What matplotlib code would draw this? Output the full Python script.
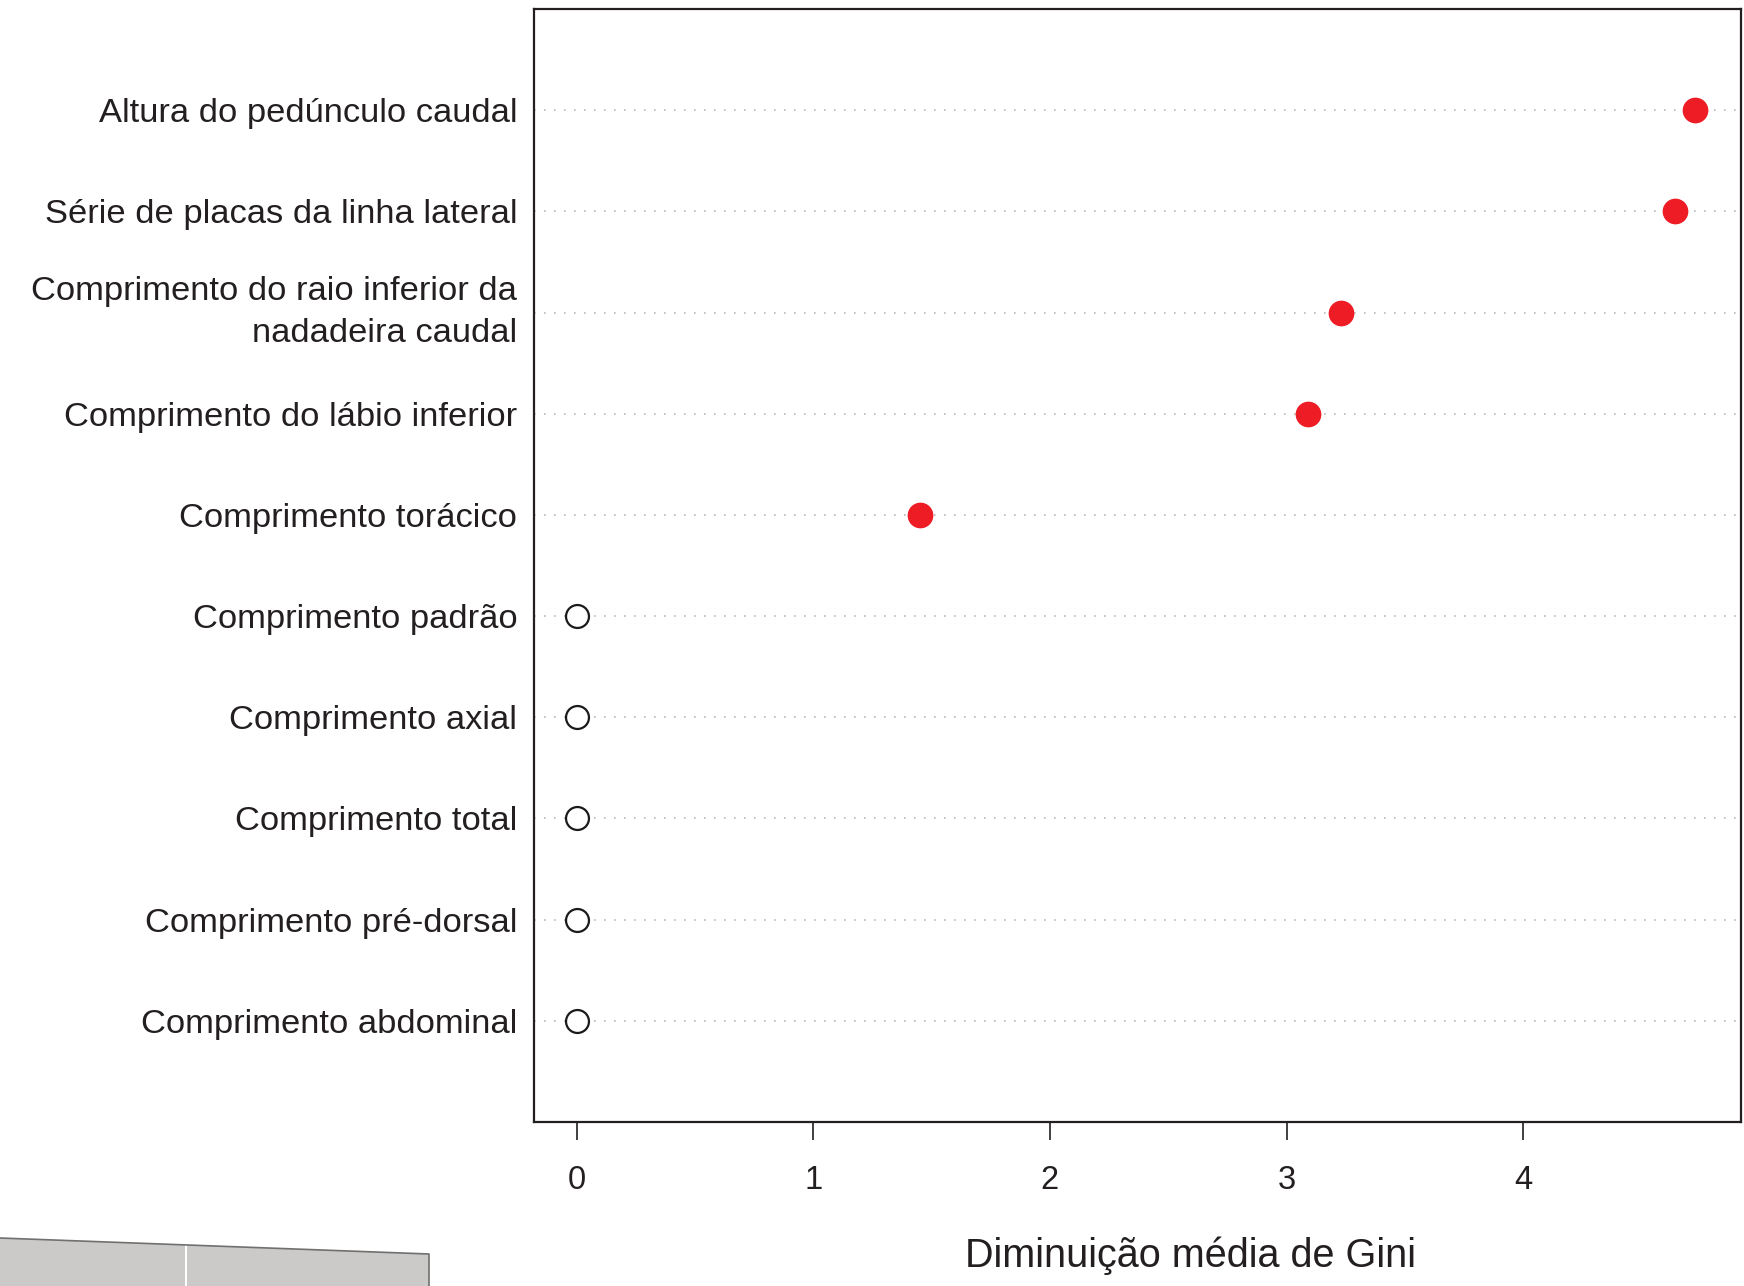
import matplotlib
matplotlib.use("Agg")
import matplotlib.pyplot as plt
from matplotlib.patches import Polygon
from matplotlib.lines import Line2D
import numpy as np

plt.rcParams['font.family'] = ['Liberation Sans', 'DejaVu Sans']

# Data (top to bottom)
labels = [
    "Altura do pedúnculo caudal",
    "Série de placas da linha lateral",
    "Comprimento do raio inferior da\nnadadeira caudal",
    "Comprimento do lábio inferior",
    "Comprimento torácico",
    "Comprimento padrão",
    "Comprimento axial",
    "Comprimento total",
    "Comprimento pré-dorsal",
    "Comprimento abdominal",
]
values = [4.725, 4.64, 3.23, 3.09, 1.45, 0.0, 0.0, 0.0, 0.0, 0.0]
significant = [True, True, True, True, True, False, False, False, False, False]
xticks = [0, 1, 2, 3, 4]
xlabel = "Diminuição média de Gini"

W, H = 1744, 1286
fig = plt.figure(figsize=(W / 100, H / 100), dpi=100)
ax = fig.add_axes([534 / W, 1 - 1122 / H, (1741 - 534) / W, (1122 - 9) / H])

n = len(labels)
ypos = np.arange(n, 0, -1)

for y in ypos:
    ax.axhline(y, color='#b8b8b8', lw=1.2, ls=(0, (1, 5)), zorder=1)

vals = np.array(values)
sig = np.array(significant)
ax.plot(vals[sig], ypos[sig], 'o', ms=17.5, color='#ee1c25', mec='#ee1c25', zorder=3, ls='none')
ax.plot(vals[~sig], ypos[~sig], 'o', ms=16.5, mfc='white', mec='#1a1a1a', mew=1.6, zorder=3, ls='none')

ax.set_xlim(-0.18, 4.92)
ax.set_ylim(0, n + 1)
ax.set_yticks(ypos)
ax.set_yticklabels(labels, fontsize=24.8, color='#231f20', linespacing=1.45)
ax.tick_params(axis='y', length=0, pad=12)
ax.set_xticks(xticks)
ax.set_xticklabels([str(t) for t in xticks], fontsize=23.5, color='#231f20')
ax.tick_params(axis='x', length=13, width=1.2, pad=18, color='#231f20', direction='out')
for lab in ax.get_yticklabels():
    lab.set_horizontalalignment('right')
    if "\n" in lab.get_text():
        lab.set_verticalalignment('center')
for s in ax.spines.values():
    s.set_linewidth(1.6)
    s.set_color('#231f20')

fig.text((866 + 1275) / 2 * 1.1122 / W, 1 - 1256 / H, xlabel, fontsize=28.5,
         ha='center', va='center', color='#231f20')

# decorative grey shape at bottom-left
shapes = [
    [(0, 1238), (185, 1245), (185, 1286), (0, 1286)],
    [(187, 1245), (429, 1254), (429, 1286), (187, 1286)],
]
for pts in shapes:
    xy = np.array(pts, dtype=float)
    xy[:, 0] = xy[:, 0] / W
    xy[:, 1] = 1 - xy[:, 1] / H
    fig.add_artist(Polygon(xy, closed=True, transform=fig.transFigure,
                           facecolor='#cbcac8', edgecolor='none'))
fig.add_artist(Line2D([0, 429 / W, 429 / W], [1 - 1238 / H, 1 - 1254 / H, 0],
                      transform=fig.transFigure, color='#707070', lw=1.2))

fig.savefig("out.png", dpi=100)
